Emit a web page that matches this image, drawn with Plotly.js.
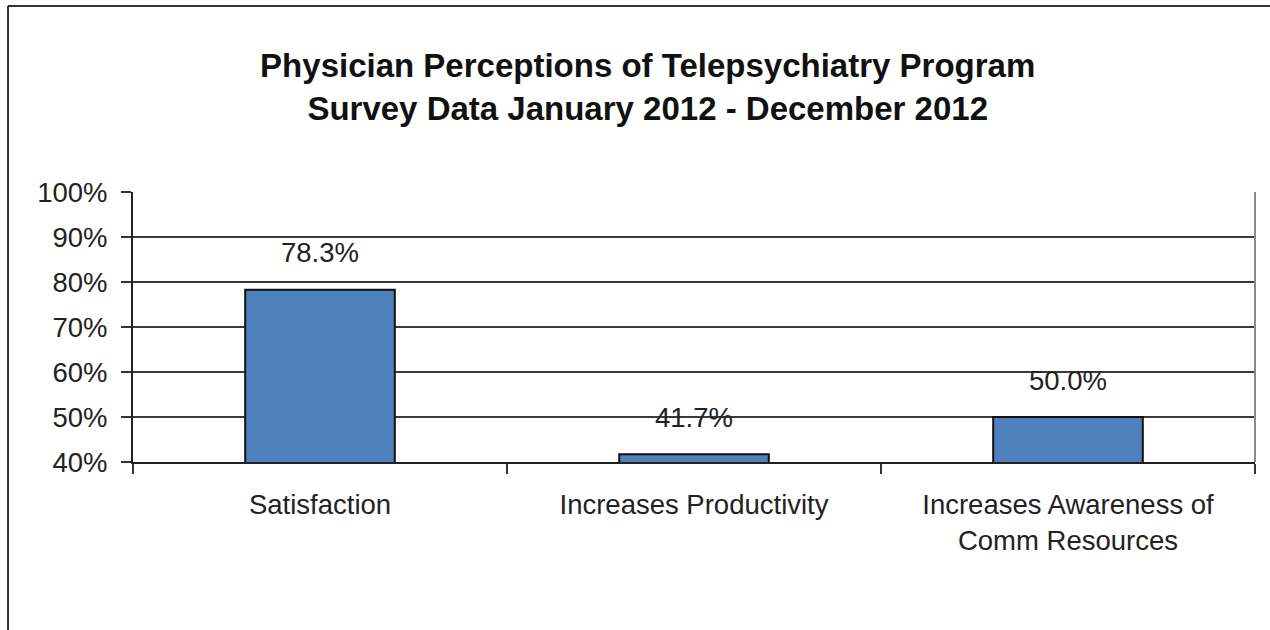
<!DOCTYPE html>
<html>
<head>
<meta charset="utf-8">
<script src="https://cdn.plot.ly/plotly-3.0.1.min.js"></script>
<style>html,body{margin:0;padding:0;background:#fff;}#chart{width:1270px;height:630px;}</style>
</head>
<body>
<div id="chart"></div>
<script>
const categories = ["Satisfaction", "Increases Productivity", "Increases Awareness of<br>Comm Resources"];
const values = [0.783, 0.417, 0.500];
const valueLabels = ["78.3%", "41.7%", "50.0%"];
const titleLines = ["Physician Perceptions of Telepsychiatry Program", "Survey Data January 2012 - December 2012"];

const FONT = "Liberation Sans, Arial, sans-serif";

const trace = {
  type: "bar",
  x: categories,
  y: values,
  width: 0.4,
  marker: {color: "#4F81BD", line: {color: "#111111", width: 2}},
  hoverinfo: "skip"
};

const annotations = categories.map((c, i) => ({
  x: c, y: values[i], xref: "x", yref: "y",
  text: valueLabels[i], showarrow: false,
  yanchor: "middle", yshift: 37,
  font: {family: FONT, size: 27.5, color: "#222222"}
}));

const layout = {
  width: 1270, height: 630,
  margin: {l: 133, r: 15, t: 192, b: 168},
  paper_bgcolor: "#ffffff", plot_bgcolor: "#ffffff",
  showlegend: false,
  title: {
    text: "<b>" + titleLines.join("<br>") + "</b>",
    x: 0.51, xref: "container", xanchor: "center",
    y: 0.877, yref: "container", yanchor: "middle",
    font: {family: FONT, size: 33, color: "#111111"}
  },
  xaxis: {
    type: "category",
    showgrid: false,
    showline: true, linecolor: "#222222", linewidth: 2,
    ticks: "outside", tickson: "boundaries", ticklen: 10, tickcolor: "#333333", tickwidth: 1.5,
    tickfont: {family: FONT, size: 27.5, color: "#222222"},
    ticklabelstandoff: 17,
    fixedrange: true
  },
  yaxis: {
    range: [0.4, 1.0],
    dtick: 0.1, tick0: 0.4,
    tickformat: ".0%",
    showgrid: true, gridcolor: "#3a3a3a", gridwidth: 1.5,
    showline: true, linecolor: "#222222", linewidth: 2,
    ticks: "outside", ticklen: 10, tickcolor: "#333333", tickwidth: 1.5,
    tickfont: {family: FONT, size: 27.5, color: "#222222"},
    ticklabelstandoff: 8,
    zeroline: false,
    fixedrange: true
  },
  annotations: annotations,
  shapes: [
    {type: "line", xref: "paper", yref: "paper", x0: 1, x1: 1, y0: 0, y1: 1, line: {color: "#888888", width: 2}},
    {type: "line", xref: "paper", yref: "paper", x0: -0.1114, x1: -0.1114, y0: -1.0, y1: 1.689, line: {color: "#333333", width: 2}},
    {type: "line", xref: "paper", yref: "paper", x0: -0.1114, x1: 1.02, y0: 1.689, y1: 1.689, line: {color: "#333333", width: 2}}
  ]
};

Plotly.newPlot("chart", [trace], layout, {displayModeBar: false, staticPlot: true});
</script>
</body>
</html>
